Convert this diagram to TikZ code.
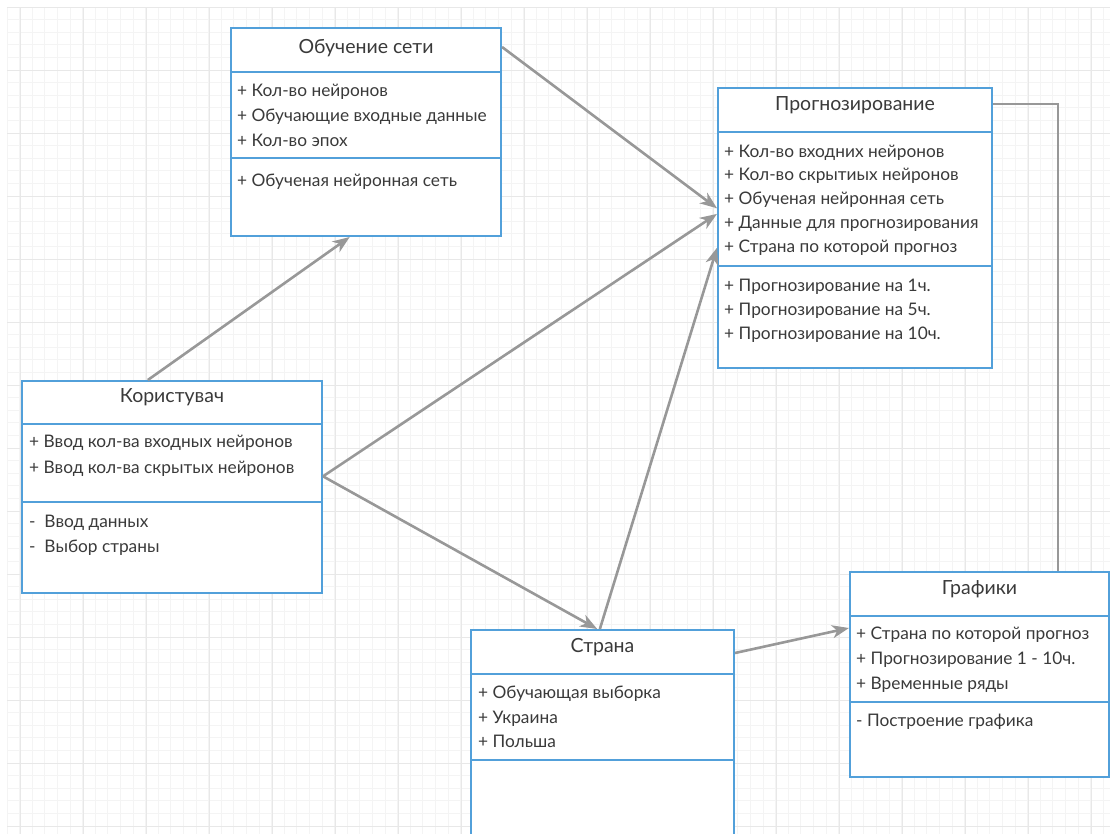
\documentclass[tikz,border=0pt]{standalone}
\usepackage{fontspec}
\setmainfont{Lato}
\usetikzlibrary{arrows.meta, positioning, calc}
\definecolor{umlblue}{RGB}{82, 160, 218}
\definecolor{txtgray}{RGB}{58, 58, 58}
\definecolor{conngray}{RGB}{152, 152, 152}
\definecolor{gridminor}{RGB}{244, 244, 244}
\definecolor{gridmajor}{RGB}{232, 232, 232}
\tikzset{
    umlbox/.style={rectangle, draw=umlblue, line width=2pt, fill=white, anchor=north west, inner sep=0pt},
    umlline/.style={draw=umlblue, line width=2pt},
    title/.style={font=\fontsize{19.5}{22}\selectfont, text=txtgray, inner sep=0pt},
    attr/.style={font=\fontsize{17.3}{20}\selectfont, text=txtgray, anchor=base west, inner sep=0pt},
    arr/.style={-{Stealth[length=17pt, width=13pt, inset=5pt]}, line width=2.6pt, conngray},
    conn/.style={line width=2.2pt, conngray}
}
\begin{document}
\begin{tikzpicture}[x=1pt, y=-1pt]
    \useasboundingbox (0,0) rectangle (1110,833);
    \clip (0,0) rectangle (1110,833);
    % background grid
    \foreach \i in {0,...,87} {\draw[gridminor, line width=0.8pt] ({7+12.6*\i},7) -- ++(0,830);}
    \foreach \i in {0,...,65} {\draw[gridminor, line width=0.8pt] (7,{7+12.6*\i}) -- ++(1110,0);}
    \foreach \i in {0,...,17} {\draw[gridmajor, line width=1pt] ({20+63*\i},7) -- ++(0,830);}
    \foreach \i in {0,...,13} {\draw[gridmajor, line width=1pt] (7,{7+63*\i}) -- ++(1110,0);}

    % classes
    \node[umlbox, minimum width=270pt, minimum height=208pt] (learn) at (230,27) {};
    \node[umlbox, minimum width=274pt, minimum height=280pt] (forecast) at (717,87) {};
    \node[umlbox, minimum width=300pt, minimum height=212pt] (user) at (21,380) {};
    \node[umlbox, minimum width=263pt, minimum height=230pt] (country) at (470,629) {};
    \node[umlbox, minimum width=259pt, minimum height=205pt] (charts) at (849,571) {};

    \draw[umlline] ($(learn.north west)+(0,45)$) -- ($(learn.north east)+(0,45)$);
    \draw[umlline] ($(learn.north west)+(0,131)$) -- ($(learn.north east)+(0,131)$);
    \draw[umlline] ($(forecast.north west)+(0,45)$) -- ($(forecast.north east)+(0,45)$);
    \draw[umlline] ($(forecast.north west)+(0,179)$) -- ($(forecast.north east)+(0,179)$);
    \draw[umlline] ($(user.north west)+(0,44)$) -- ($(user.north east)+(0,44)$);
    \draw[umlline] ($(user.north west)+(0,122)$) -- ($(user.north east)+(0,122)$);
    \draw[umlline] ($(country.north west)+(0,45)$) -- ($(country.north east)+(0,45)$);
    \draw[umlline] ($(country.north west)+(0,131)$) -- ($(country.north east)+(0,131)$);
    \draw[umlline] ($(charts.north west)+(0,45)$) -- ($(charts.north east)+(0,45)$);
    \draw[umlline] ($(charts.north west)+(0,131)$) -- ($(charts.north east)+(0,131)$);

    % titles
    \node[title] (learnT) at ($(learn.north)+(0,21)$) {Обучение сети};
    \node[title] (forecastT) at ($(forecast.north)+(0,18)$) {Прогнозирование};
    \node[title] (userT) at ($(user.north)+(0,17)$) {Користувач};
    \node[title] (countryT) at ($(country.north)+(0,18)$) {Страна};
    \node[title] (chartsT) at ($(charts.north)+(0,18)$) {Графики};

    % attributes and methods
    \node[attr] (learnA1) at (237,96) {+ Кол-во нейронов};
    \node[attr] (learnA2) at (237,121) {+ Обучающие входные данные};
    \node[attr] (learnA3) at (237,146) {+ Кол-во эпох};
    \node[attr] (learnM1) at (237,186) {+ Обученая нейронная сеть};

    \node[attr] (forecastA1) at (724,157) {+ Кол-во входних нейронов};
    \node[attr] (forecastA2) at (724,180) {+ Кол-во скрытиых нейронов};
    \node[attr] (forecastA3) at (724,204) {+ Обученая нейронная сеть};
    \node[attr] (forecastA4) at (724,228) {+ Данные для прогнозирования};
    \node[attr] (forecastA5) at (724,252) {+ Страна по которой прогноз};
    \node[attr] (forecastM1) at (724,291) {+ Прогнозирование на 1ч.};
    \node[attr] (forecastM2) at (724,315) {+ Прогнозирование на 5ч.};
    \node[attr] (forecastM3) at (724,339) {+ Прогнозирование на 10ч.};

    \node[attr] (userA1) at (29,447) {+ Ввод кол-ва входных нейронов};
    \node[attr] (userA2) at (29,473) {+ Ввод кол-ва скрытых нейронов};
    \node[attr] (userM1) at (29,527) {-\ \ Ввод данных};
    \node[attr] (userM2) at (29,552) {-\ \ Выбор страны};

    \node[attr] (countryA1) at (478,698) {+ Обучающая выборка};
    \node[attr] (countryA2) at (478,723) {+ Украина};
    \node[attr] (countryA3) at (478,747) {+ Польша};

    \node[attr] (chartsA1) at (856,639) {+ Страна по которой прогноз};
    \node[attr] (chartsA2) at (856,664) {+ Прогнозирование 1 - 10ч.};
    \node[attr] (chartsA3) at (856,689) {+ Временные ряды};
    \node[attr] (chartsM1) at (856,726) {- Построение графика};

    % connectors
    \draw[arr] ($(user.north west)!0.42!(user.north east)$) -- ($(learn.south west)!0.44!(learn.south east)$);
    \draw[arr] ($(learn.north east)+(0,20)$) -- ($(forecast.north west)!0.43!(forecast.south west)$);
    \draw[arr] ($(user.north east)!0.45!(user.south east)$) -- ($(forecast.north west)!0.45!(forecast.south west)$);
    \draw[arr] ($(user.north east)!0.45!(user.south east)$) -- ($(country.north west)!0.48!(country.north east)$);
    \draw[arr] ($(country.north west)!0.49!(country.north east)$) -- ($(forecast.north west)!0.57!(forecast.south west)$);
    \draw[arr] ($(country.north east)+(0,24)$) -- ($(charts.north west)+(0,57)$);
    \draw[conn] ($(forecast.north east)+(0,17)$) -| ($(charts.north west)!0.8!(charts.north east)$);
\end{tikzpicture}
\end{document}
